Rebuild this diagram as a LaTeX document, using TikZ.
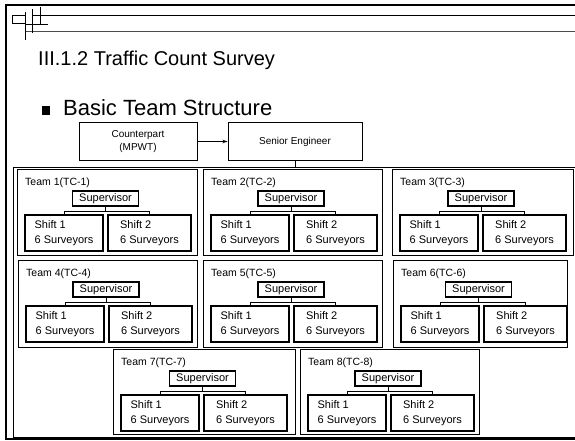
\documentclass[tikz,border=0pt]{standalone}
\usepackage{fontspec}
\setmainfont{Liberation Sans}
\usetikzlibrary{calc,arrows.meta}
\tikzset{
  frameline/.style={line width=1.6pt},
  rule/.style={line width=0.7pt},
  teambox/.style={draw, rectangle, line width=1pt, inner sep=0pt},
  supbox/.style={draw, rectangle, line width=1.1pt, minimum width=66pt, minimum height=15pt, inner sep=0pt, font=\fontsize{11}{12}\selectfont},
  shiftbox/.style={draw, rectangle, line width=1.1pt, minimum height=36pt, inner sep=0pt, align=left, font=\fontsize{11}{15}\selectfont},
  teamtitle/.style={inner sep=0pt, font=\fontsize{10.5}{12}\selectfont},
  topbox/.style={draw, rectangle, line width=1pt, inner sep=0pt, align=center, font=\fontsize{10}{13}\selectfont},
  link/.style={line width=0.8pt},
}
\newcommand\teamblock[6]{%
  \node[teambox, minimum width=#4pt, minimum height=#5pt, anchor=north west] (team#1) at (#2,#3) {};
  \node[teamtitle, anchor=base west] (title#1) at ($(team#1.north west)+(8,16)$) {#6};
  \node[supbox] (sup#1) at ($(team#1.north)+(-2,29.5)$) {Supervisor};
  \node[shiftbox, minimum width=78pt] (sa#1) at ($(team#1.north west)+(47,64)$) {Shift 1\\6 Surveyors};
  \node[shiftbox, minimum width=83pt] (sb#1) at ($(team#1.north west)+(132.5,64)$) {Shift 2\\6 Surveyors};
  \coordinate (bus#1) at ($(sup#1.south)+(0,5)$);
  \draw[link] (sup#1.south) -- (bus#1);
  \draw[link] (sa#1.north) |- (bus#1) -| (sb#1.north);
}
\begin{document}
\begin{tikzpicture}[x=1pt,y=-1pt]
\useasboundingbox (0,0) rectangle (575,440);
\fill[white] (0,0) rectangle (575,440);
% slide frame
\draw[frameline] (578,5) -- (6,5) -- (6,439) -- (578,439);
% header decoration
\draw[rule] (32,15) -- (578,15);
\draw[line width=0.6pt, black!70] (25,31) -- (578,31);
\draw[rule] (12,15) rectangle (25,23);
\draw[rule] (25,12) -- (25,40);
\draw[rule] (32,9) -- (32,33);
\draw[rule] (40,7) -- (40,24);
\draw[rule] (25,24) -- (48,24);
% title
\node[anchor=base west, inner sep=0pt, font=\fontsize{20}{24}\selectfont] (title) at (38,65) {III.1.2 Traffic Count Survey};
\node[fill=black, minimum width=8pt, minimum height=9pt, inner sep=0pt] (bullet) at (46,110) {};
\node[anchor=base west, inner sep=0pt, font=\fontsize{22}{26}\selectfont] (heading) at (63,115) {Basic Team Structure};
% top boxes
\node[topbox, minimum width=118pt, minimum height=38pt] (cp) at (138,141.5) {Counterpart\\(MPWT)};
\node[topbox, minimum width=134pt, minimum height=38pt] (se) at (295,141.5) {Senior Engineer};
\draw[link, -{Stealth[length=5pt,width=3.5pt]}] (cp) -- (se);
% outer frame
\coordinate (otl) at (13,167);
\coordinate (obl) at (13,437);
\draw[line width=0.9pt] (578,167) -- (otl) -- (obl) -- (578,437);
\draw[link] (se.south) -- (se.south |- otl);
% teams
\teamblock{1}{17}{169}{180}{86}{Team 1(TC-1)}
\teamblock{2}{203}{169}{179}{86}{Team 2(TC-2)}
\teamblock{3}{392}{169}{181}{86}{Team 3(TC-3)}
\teamblock{4}{18}{260}{179}{87}{Team 4(TC-4)}
\teamblock{5}{203}{260}{179}{87}{Team 5(TC-5)}
\teamblock{6}{393}{260}{174}{87}{Team 6(TC-6)}
\teamblock{7}{113}{349}{182}{85}{Team 7(TC-7)}
\teamblock{8}{300}{349}{179}{85}{Team 8(TC-8)}
\end{tikzpicture}
\end{document}
